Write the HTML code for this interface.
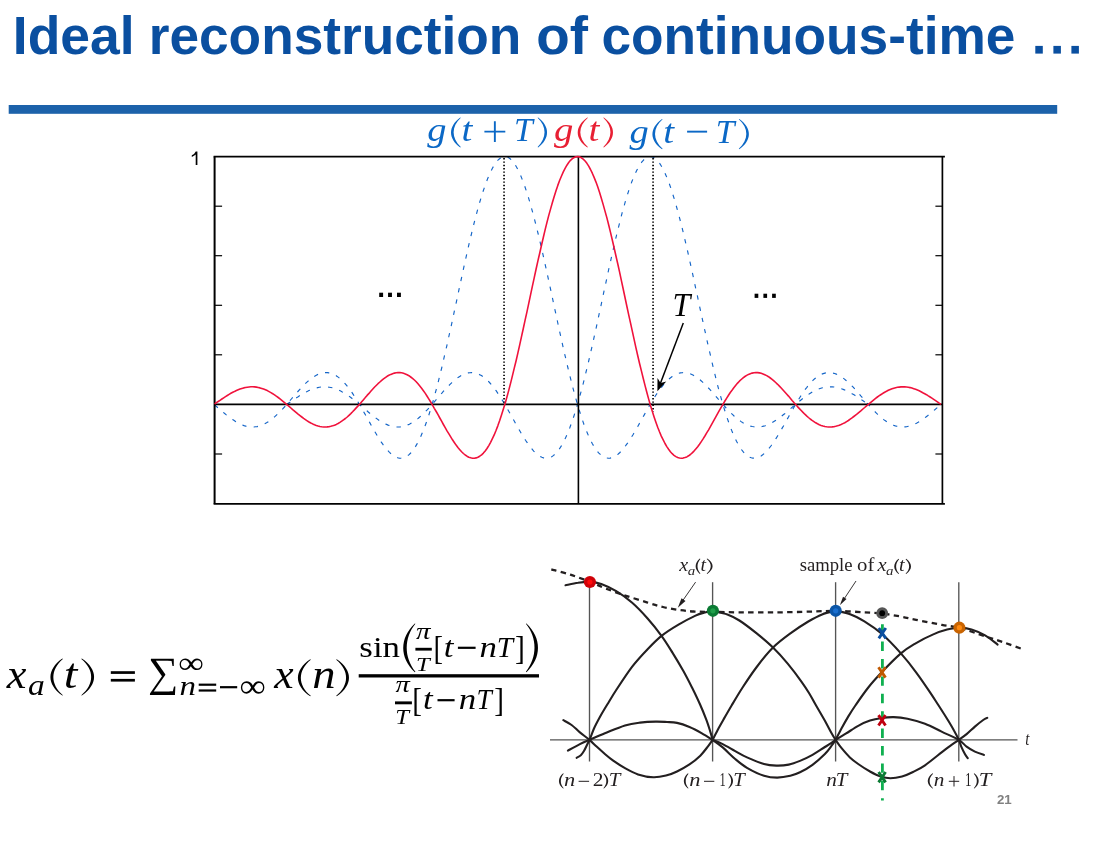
<!DOCTYPE html>
<html><head><meta charset="utf-8"><title>Ideal reconstruction of continuous-time</title>
<style>html,body{margin:0;padding:0;background:#fff;}body{width:1102px;height:842px;overflow:hidden;font-family:"Liberation Sans",sans-serif;}svg{display:block;will-change:transform;}text{font-kerning:none;white-space:pre;}</style></head><body>
<svg width="1102" height="842" viewBox="0 0 1102 842">
<rect width="1102" height="842" fill="#fff"/>
<g id="page" opacity="0.999">
<g id="title">
<text transform="matrix(0.5348 0 0 0.5360 12.82 53.60)" font-family="Liberation Sans" font-size="100" font-weight="bold" fill="#0a4fa0">Ideal</text>
<text transform="matrix(0.5325 0 0 0.5360 148.69 53.60)" font-family="Liberation Sans" font-size="100" font-weight="bold" fill="#0a4fa0">reconstruction</text>
<text transform="matrix(0.5481 0 0 0.5360 536.16 53.60)" font-family="Liberation Sans" font-size="100" font-weight="bold" fill="#0a4fa0">of</text>
<text transform="matrix(0.5324 0 0 0.5360 601.42 53.60)" font-family="Liberation Sans" font-size="100" font-weight="bold" fill="#0a4fa0">continuous-time</text>
<rect x="1035.3" y="45.9" width="7.5" height="7.7" fill="#0a4fa0"/>
<rect x="1053.4" y="45.9" width="7.5" height="7.7" fill="#0a4fa0"/>
<rect x="1071.4" y="45.9" width="7.5" height="7.7" fill="#0a4fa0"/>
</g>
<rect x="8.7" y="105" width="1048.5" height="8.8" fill="#1c62aa"/>
<g id="plot" fill="none">
<path d="M214.6,404.9 L216.2,406.3 L217.9,407.7 L219.5,409.1 L221.1,410.5 L222.8,411.9 L224.4,413.3 L226.0,414.6 L227.7,415.9 L229.3,417.2 L230.9,418.4 L232.6,419.6 L234.2,420.6 L235.8,421.7 L237.5,422.6 L239.1,423.5 L240.7,424.3 L242.4,425.0 L244.0,425.6 L245.7,426.1 L247.3,426.5 L248.9,426.8 L250.6,427.0 L252.2,427.0 L253.8,427.0 L255.5,426.8 L257.1,426.6 L258.7,426.2 L260.4,425.7 L262.0,425.1 L263.6,424.4 L265.3,423.5 L266.9,422.6 L268.5,421.6 L270.2,420.4 L271.8,419.2 L273.4,417.8 L275.1,416.4 L276.7,414.9 L278.3,413.4 L280.0,411.7 L281.6,410.0 L283.2,408.3 L284.9,406.5 L286.5,404.6 L288.1,402.8 L289.8,400.9 L291.4,399.0 L293.0,397.1 L294.7,395.2 L296.3,393.3 L297.9,391.5 L299.6,389.6 L301.2,387.9 L302.8,386.2 L304.5,384.5 L306.1,382.9 L307.8,381.4 L309.4,380.0 L311.0,378.7 L312.7,377.5 L314.3,376.4 L315.9,375.5 L317.6,374.6 L319.2,373.9 L320.8,373.4 L322.5,373.0 L324.1,372.7 L325.7,372.6 L327.4,372.6 L329.0,372.9 L330.6,373.2 L332.3,373.8 L333.9,374.5 L335.5,375.3 L337.2,376.4 L338.8,377.6 L340.4,378.9 L342.1,380.4 L343.7,382.1 L345.3,383.9 L347.0,385.8 L348.6,387.9 L350.2,390.1 L351.9,392.4 L353.5,394.9 L355.1,397.4 L356.8,400.0 L358.4,402.7 L360.0,405.5 L361.7,408.3 L363.3,411.2 L365.0,414.1 L366.6,417.1 L368.2,420.0 L369.9,422.9 L371.5,425.9 L373.1,428.7 L374.8,431.6 L376.4,434.3 L378.0,437.0 L379.7,439.6 L381.3,442.1 L382.9,444.4 L384.6,446.6 L386.2,448.7 L387.8,450.6 L389.5,452.3 L391.1,453.8 L392.7,455.1 L394.4,456.2 L396.0,457.1 L397.6,457.7 L399.3,458.1 L400.9,458.2 L402.5,458.1 L404.2,457.7 L405.8,456.9 L407.4,455.9 L409.1,454.6 L410.7,453.0 L412.3,451.1 L414.0,448.9 L415.6,446.4 L417.2,443.6 L418.9,440.5 L420.5,437.1 L422.1,433.3 L423.8,429.3 L425.4,425.0 L427.1,420.4 L428.7,415.5 L430.3,410.3 L432.0,404.9 L433.6,399.2 L435.2,393.3 L436.9,387.2 L438.5,380.8 L440.1,374.3 L441.8,367.5 L443.4,360.6 L445.0,353.5 L446.7,346.3 L448.3,339.0 L449.9,331.6 L451.6,324.1 L453.2,316.5 L454.8,308.9 L456.5,301.3 L458.1,293.7 L459.7,286.1 L461.4,278.5 L463.0,271.0 L464.6,263.5 L466.3,256.2 L467.9,249.0 L469.5,241.9 L471.2,235.0 L472.8,228.3 L474.4,221.8 L476.1,215.5 L477.7,209.4 L479.3,203.6 L481.0,198.1 L482.6,192.8 L484.3,187.9 L485.9,183.3 L487.5,179.0 L489.2,175.1 L490.8,171.5 L492.4,168.2 L494.1,165.4 L495.7,162.9 L497.3,160.9 L499.0,159.2 L500.6,158.0 L502.2,157.1 L503.9,156.7 L505.5,156.6 L507.1,157.0 L508.8,157.8 L510.4,159.0 L512.0,160.6 L513.7,162.6 L515.3,165.0 L516.9,167.8 L518.6,171.0 L520.2,174.5 L521.8,178.4 L523.5,182.6 L525.1,187.2 L526.7,192.1 L528.4,197.3 L530.0,202.8 L531.6,208.6 L533.3,214.6 L534.9,220.8 L536.5,227.3 L538.2,234.0 L539.8,240.9 L541.5,248.0 L543.1,255.1 L544.7,262.5 L546.4,269.9 L548.0,277.4 L549.6,284.9 L551.3,292.5 L552.9,300.2 L554.5,307.8 L556.2,315.4 L557.8,323.0 L559.4,330.5 L561.1,337.9 L562.7,345.3 L564.3,352.5 L566.0,359.6 L567.6,366.5 L569.2,373.3 L570.9,379.9 L572.5,386.2 L574.1,392.4 L575.8,398.4 L577.4,404.1 L579.0,409.5 L580.7,414.7 L582.3,419.7 L583.9,424.3 L585.6,428.7 L587.2,432.7 L588.8,436.5 L590.5,440.0 L592.1,443.2 L593.7,446.0 L595.4,448.6 L597.0,450.8 L598.6,452.8 L600.3,454.4 L601.9,455.8 L603.6,456.8 L605.2,457.6 L606.8,458.0 L608.5,458.2 L610.1,458.1 L611.7,457.8 L613.4,457.2 L615.0,456.4 L616.6,455.3 L618.3,454.0 L619.9,452.5 L621.5,450.8 L623.2,449.0 L624.8,446.9 L626.4,444.7 L628.1,442.4 L629.7,440.0 L631.3,437.4 L633.0,434.7 L634.6,432.0 L636.2,429.2 L637.9,426.3 L639.5,423.4 L641.1,420.5 L642.8,417.5 L644.4,414.6 L646.0,411.7 L647.7,408.8 L649.3,405.9 L650.9,403.1 L652.6,400.4 L654.2,397.8 L655.8,395.2 L657.5,392.8 L659.1,390.4 L660.8,388.2 L662.4,386.1 L664.0,384.1 L665.7,382.3 L667.3,380.6 L668.9,379.1 L670.6,377.7 L672.2,376.5 L673.8,375.5 L675.5,374.6 L677.1,373.9 L678.7,373.3 L680.4,372.9 L682.0,372.7 L683.6,372.6 L685.3,372.7 L686.9,372.9 L688.5,373.3 L690.2,373.8 L691.8,374.5 L693.4,375.3 L695.1,376.3 L696.7,377.3 L698.3,378.5 L700.0,379.8 L701.6,381.2 L703.2,382.7 L704.9,384.3 L706.5,385.9 L708.1,387.6 L709.8,389.4 L711.4,391.2 L713.0,393.0 L714.7,394.9 L716.3,396.8 L717.9,398.7 L719.6,400.6 L721.2,402.5 L722.9,404.3 L724.5,406.2 L726.1,408.0 L727.8,409.8 L729.4,411.5 L731.0,413.1 L732.7,414.7 L734.3,416.2 L735.9,417.6 L737.6,419.0 L739.2,420.2 L740.8,421.4 L742.5,422.5 L744.1,423.4 L745.7,424.3 L747.4,425.0 L749.0,425.6 L750.6,426.1 L752.3,426.5 L753.9,426.8 L755.5,427.0 L757.2,427.0 L758.8,427.0 L760.4,426.8 L762.1,426.5 L763.7,426.1 L765.3,425.7 L767.0,425.1 L768.6,424.4 L770.2,423.6 L771.9,422.8 L773.5,421.8 L775.1,420.8 L776.8,419.7 L778.4,418.6 L780.1,417.4 L781.7,416.1 L783.3,414.8 L785.0,413.5 L786.6,412.1 L788.2,410.7 L789.9,409.3 L791.5,407.9 L793.1,406.5 L794.8,405.1 L796.4,403.7 L798.0,402.4 L799.7,401.0 L801.3,399.7 L802.9,398.4 L804.6,397.2 L806.2,396.0 L807.8,394.9 L809.5,393.8 L811.1,392.8 L812.7,391.8 L814.4,391.0 L816.0,390.2 L817.6,389.5 L819.3,388.8 L820.9,388.3 L822.5,387.8 L824.2,387.4 L825.8,387.2 L827.4,387.0 L829.1,386.9 L830.7,386.8 L832.3,386.9 L834.0,387.0 L835.6,387.3 L837.2,387.6 L838.9,388.0 L840.5,388.5 L842.2,389.0 L843.8,389.6 L845.4,390.3 L847.1,391.1 L848.7,391.9 L850.3,392.8 L852.0,393.7 L853.6,394.6 L855.2,395.6 L856.9,396.7 L858.5,397.7 L860.1,398.8 L861.8,399.9 L863.4,401.0 L865.0,402.2 L866.7,403.3 L868.3,404.4" stroke="#1465c8" stroke-width="1.15" stroke-dasharray="4.3 7.2"/>
<path d="M286.7,404.4 L288.3,403.3 L290.0,402.2 L291.6,401.0 L293.2,399.9 L294.9,398.8 L296.5,397.7 L298.2,396.7 L299.8,395.6 L301.4,394.6 L303.1,393.7 L304.7,392.8 L306.3,391.9 L308.0,391.1 L309.6,390.3 L311.2,389.6 L312.9,389.0 L314.5,388.5 L316.1,388.0 L317.8,387.6 L319.4,387.3 L321.1,387.0 L322.7,386.9 L324.3,386.8 L326.0,386.9 L327.6,387.0 L329.2,387.2 L330.9,387.5 L332.5,387.8 L334.1,388.3 L335.8,388.8 L337.4,389.5 L339.0,390.2 L340.7,391.0 L342.3,391.9 L344.0,392.8 L345.6,393.8 L347.2,394.9 L348.9,396.0 L350.5,397.2 L352.1,398.5 L353.8,399.7 L355.4,401.1 L357.0,402.4 L358.7,403.8 L360.3,405.2 L361.9,406.6 L363.6,408.0 L365.2,409.4 L366.9,410.8 L368.5,412.2 L370.1,413.6 L371.8,414.9 L373.4,416.2 L375.0,417.4 L376.7,418.6 L378.3,419.8 L379.9,420.9 L381.6,421.9 L383.2,422.8 L384.8,423.7 L386.5,424.4 L388.1,425.1 L389.8,425.7 L391.4,426.2 L393.0,426.5 L394.7,426.8 L396.3,427.0 L397.9,427.0 L399.6,427.0 L401.2,426.8 L402.8,426.5 L404.5,426.1 L406.1,425.6 L407.7,424.9 L409.4,424.2 L411.0,423.3 L412.7,422.4 L414.3,421.3 L415.9,420.1 L417.6,418.9 L419.2,417.5 L420.8,416.1 L422.5,414.6 L424.1,413.0 L425.7,411.3 L427.4,409.6 L429.0,407.9 L430.6,406.0 L432.3,404.2 L433.9,402.3 L435.6,400.4 L437.2,398.5 L438.8,396.6 L440.5,394.7 L442.1,392.9 L443.7,391.0 L445.4,389.2 L447.0,387.5 L448.6,385.8 L450.3,384.1 L451.9,382.6 L453.5,381.1 L455.2,379.7 L456.8,378.4 L458.5,377.2 L460.1,376.2 L461.7,375.3 L463.4,374.4 L465.0,373.8 L466.6,373.3 L468.3,372.9 L469.9,372.7 L471.5,372.6 L473.2,372.7 L474.8,372.9 L476.4,373.3 L478.1,373.9 L479.7,374.7 L481.4,375.6 L483.0,376.7 L484.6,377.9 L486.3,379.3 L487.9,380.8 L489.5,382.5 L491.2,384.4 L492.8,386.3 L494.4,388.5 L496.1,390.7 L497.7,393.1 L499.3,395.5 L501.0,398.1 L502.6,400.7 L504.3,403.5 L505.9,406.3 L507.5,409.1 L509.2,412.0 L510.8,414.9 L512.4,417.9 L514.1,420.8 L515.7,423.8 L517.3,426.7 L519.0,429.5 L520.6,432.3 L522.2,435.1 L523.9,437.7 L525.5,440.3 L527.2,442.7 L528.8,445.1 L530.4,447.2 L532.1,449.2 L533.7,451.1 L535.3,452.8 L537.0,454.2 L538.6,455.5 L540.2,456.5 L541.9,457.3 L543.5,457.9 L545.1,458.2 L546.8,458.2 L548.4,458.0 L550.1,457.5 L551.7,456.7 L553.3,455.6 L555.0,454.2 L556.6,452.5 L558.2,450.5 L559.9,448.2 L561.5,445.6 L563.1,442.7 L564.8,439.5 L566.4,435.9 L568.0,432.1 L569.7,428.0 L571.3,423.6 L573.0,418.9 L574.6,413.9 L576.2,408.7 L577.9,403.2 L579.5,397.4 L581.1,391.4 L582.8,385.2 L584.4,378.8 L586.0,372.2 L587.7,365.3 L589.3,358.4 L590.9,351.3 L592.6,344.0 L594.2,336.7 L595.9,329.2 L597.5,321.7 L599.1,314.1 L600.8,306.5 L602.4,298.8 L604.0,291.2 L605.7,283.6 L607.3,276.0 L608.9,268.5 L610.6,261.1 L612.2,253.8 L613.9,246.6 L615.5,239.6 L617.1,232.8 L618.8,226.1 L620.4,219.7 L622.0,213.4 L623.7,207.4 L625.3,201.7 L626.9,196.3 L628.6,191.1 L630.2,186.3 L631.8,181.8 L633.5,177.6 L635.1,173.8 L636.8,170.3 L638.4,167.2 L640.0,164.5 L641.7,162.2 L643.3,160.3 L644.9,158.7 L646.6,157.6 L648.2,156.9 L649.8,156.6 L651.5,156.7 L653.1,157.3 L654.7,158.2 L656.4,159.5 L658.0,161.3 L659.7,163.4 L661.3,166.0 L662.9,168.9 L664.6,172.2 L666.2,175.9 L667.8,179.9 L669.5,184.2 L671.1,188.9 L672.7,194.0 L674.4,199.3 L676.0,204.9 L677.6,210.7 L679.3,216.9 L680.9,223.2 L682.6,229.8 L684.2,236.6 L685.8,243.5 L687.5,250.6 L689.1,257.9 L690.7,265.2 L692.4,272.7 L694.0,280.2 L695.6,287.8 L697.3,295.4 L698.9,303.1 L700.5,310.7 L702.2,318.3 L703.8,325.9 L705.5,333.4 L707.1,340.8 L708.7,348.1 L710.4,355.2 L712.0,362.3 L713.6,369.1 L715.3,375.9 L716.9,382.4 L718.5,388.7 L720.2,394.8 L721.8,400.6 L723.4,406.2 L725.1,411.6 L726.7,416.7 L728.4,421.5 L730.0,426.1 L731.6,430.3 L733.3,434.3 L734.9,437.9 L736.5,441.3 L738.2,444.4 L739.8,447.1 L741.4,449.5 L743.1,451.7 L744.7,453.5 L746.3,455.0 L748.0,456.2 L749.6,457.2 L751.3,457.8 L752.9,458.1 L754.5,458.2 L756.2,458.0 L757.8,457.6 L759.4,456.9 L761.1,456.0 L762.7,454.8 L764.3,453.4 L766.0,451.9 L767.6,450.1 L769.2,448.1 L770.9,446.0 L772.5,443.8 L774.2,441.4 L775.8,438.9 L777.4,436.3 L779.1,433.6 L780.7,430.8 L782.3,427.9 L784.0,425.1 L785.6,422.1 L787.2,419.2 L788.9,416.2 L790.5,413.3 L792.1,410.4 L793.8,407.5 L795.4,404.7 L797.1,401.9 L798.7,399.3 L800.3,396.7 L802.0,394.1 L803.6,391.7 L805.2,389.4 L806.9,387.3 L808.5,385.2 L810.1,383.3 L811.8,381.6 L813.4,379.9 L815.0,378.5 L816.7,377.2 L818.3,376.0 L820.0,375.1 L821.6,374.2 L823.2,373.6 L824.9,373.1 L826.5,372.8 L828.1,372.6 L829.8,372.6 L831.4,372.8 L833.0,373.1 L834.7,373.5 L836.3,374.1 L837.9,374.9 L839.6,375.8 L841.2,376.8 L842.9,377.9 L844.5,379.1 L846.1,380.5 L847.8,381.9 L849.4,383.4 L851.0,385.0 L852.7,386.7 L854.3,388.4 L855.9,390.2 L857.6,392.0 L859.2,393.9 L860.8,395.8 L862.5,397.7 L864.1,399.6 L865.8,401.5 L867.4,403.4 L869.0,405.2 L870.7,407.1 L872.3,408.8 L873.9,410.6 L875.6,412.3 L877.2,413.9 L878.8,415.4 L880.5,416.9 L882.1,418.3 L883.7,419.6 L885.4,420.8 L887.0,421.9 L888.7,422.9 L890.3,423.8 L891.9,424.6 L893.6,425.3 L895.2,425.9 L896.8,426.3 L898.5,426.7 L900.1,426.9 L901.7,427.0 L903.4,427.0 L905.0,426.9 L906.6,426.7 L908.3,426.3 L909.9,425.9 L911.6,425.4 L913.2,424.7 L914.8,424.0 L916.5,423.2 L918.1,422.3 L919.7,421.3 L921.4,420.3 L923.0,419.1 L924.6,418.0 L926.3,416.7 L927.9,415.5 L929.5,414.1 L931.2,412.8 L932.8,411.4 L934.5,410.0 L936.1,408.6 L937.7,407.2 L939.4,405.8 L941.0,404.4" stroke="#1465c8" stroke-width="1.15" stroke-dasharray="4.3 7.2"/>
<line x1="504.05" y1="158.07" x2="504.05" y2="404.0" stroke="#000" stroke-width="1.7" stroke-dasharray="1.4 1.933"/>
<line x1="653.07" y1="158.07" x2="653.07" y2="412.0" stroke="#000" stroke-width="1.7" stroke-dasharray="1.4 1.933"/>
<line x1="213.6" y1="156.6" x2="944.9" y2="156.6" stroke="#000" stroke-width="1.7"/>
<line x1="213.6" y1="503.8" x2="944.9" y2="503.8" stroke="#000" stroke-width="1.7"/>
<line x1="214.6" y1="156.6" x2="214.6" y2="503.8" stroke="#000" stroke-width="2"/>
<line x1="942.4" y1="156.6" x2="942.4" y2="503.8" stroke="#000" stroke-width="1.7"/>
<line x1="214.6" y1="404.4" x2="942.4" y2="404.4" stroke="#000" stroke-width="1.6"/>
<line x1="578.4" y1="156.6" x2="578.4" y2="503.8" stroke="#000" stroke-width="1.6"/>
<line x1="214.6" y1="206.2" x2="222.1" y2="206.2" stroke="#000" stroke-width="1.2"/>
<line x1="935.4" y1="206.2" x2="942.4" y2="206.2" stroke="#000" stroke-width="1.2"/>
<line x1="214.6" y1="255.7" x2="222.1" y2="255.7" stroke="#000" stroke-width="1.2"/>
<line x1="935.4" y1="255.7" x2="942.4" y2="255.7" stroke="#000" stroke-width="1.2"/>
<line x1="214.6" y1="305.3" x2="222.1" y2="305.3" stroke="#000" stroke-width="1.2"/>
<line x1="935.4" y1="305.3" x2="942.4" y2="305.3" stroke="#000" stroke-width="1.2"/>
<line x1="214.6" y1="354.8" x2="222.1" y2="354.8" stroke="#000" stroke-width="1.2"/>
<line x1="935.4" y1="354.8" x2="942.4" y2="354.8" stroke="#000" stroke-width="1.2"/>
<line x1="214.6" y1="454.0" x2="222.1" y2="454.0" stroke="#000" stroke-width="1.2"/>
<line x1="935.4" y1="454.0" x2="942.4" y2="454.0" stroke="#000" stroke-width="1.2"/>
<path d="M214.6,404.0 L216.4,402.7 L218.2,401.5 L220.0,400.3 L221.9,399.0 L223.7,397.8 L225.5,396.6 L227.3,395.5 L229.1,394.4 L230.9,393.3 L232.8,392.3 L234.6,391.4 L236.4,390.6 L238.2,389.8 L240.0,389.1 L241.8,388.5 L243.7,387.9 L245.5,387.5 L247.3,387.2 L249.1,387.0 L250.9,386.8 L252.7,386.8 L254.6,386.9 L256.4,387.1 L258.2,387.5 L260.0,387.9 L261.8,388.4 L263.6,389.1 L265.4,389.8 L267.3,390.6 L269.1,391.6 L270.9,392.6 L272.7,393.7 L274.5,394.9 L276.3,396.2 L278.2,397.5 L280.0,398.9 L281.8,400.3 L283.6,401.8 L285.4,403.3 L287.2,404.9 L289.1,406.4 L290.9,408.0 L292.7,409.6 L294.5,411.1 L296.3,412.6 L298.1,414.1 L300.0,415.6 L301.8,417.0 L303.6,418.4 L305.4,419.6 L307.2,420.8 L309.0,422.0 L310.8,423.0 L312.7,423.9 L314.5,424.7 L316.3,425.4 L318.1,426.0 L319.9,426.5 L321.7,426.8 L323.6,427.0 L325.4,427.0 L327.2,426.9 L329.0,426.7 L330.8,426.3 L332.6,425.8 L334.5,425.2 L336.3,424.4 L338.1,423.5 L339.9,422.4 L341.7,421.2 L343.5,419.9 L345.4,418.5 L347.2,417.0 L349.0,415.3 L350.8,413.6 L352.6,411.8 L354.4,409.9 L356.2,407.9 L358.1,405.9 L359.9,403.9 L361.7,401.8 L363.5,399.7 L365.3,397.6 L367.1,395.4 L369.0,393.4 L370.8,391.3 L372.6,389.3 L374.4,387.3 L376.2,385.5 L378.0,383.7 L379.9,382.0 L381.7,380.4 L383.5,378.9 L385.3,377.6 L387.1,376.3 L388.9,375.3 L390.8,374.4 L392.6,373.7 L394.4,373.1 L396.2,372.8 L398.0,372.6 L399.8,372.6 L401.6,372.8 L403.5,373.3 L405.3,373.9 L407.1,374.7 L408.9,375.7 L410.7,377.0 L412.5,378.4 L414.4,380.0 L416.2,381.8 L418.0,383.8 L419.8,386.0 L421.6,388.3 L423.4,390.8 L425.3,393.4 L427.1,396.2 L428.9,399.1 L430.7,402.0 L432.5,405.1 L434.3,408.3 L436.2,411.5 L438.0,414.7 L439.8,418.0 L441.6,421.2 L443.4,424.5 L445.2,427.7 L447.0,430.9 L448.9,433.9 L450.7,436.9 L452.5,439.8 L454.3,442.5 L456.1,445.1 L457.9,447.5 L459.8,449.7 L461.6,451.7 L463.4,453.5 L465.2,455.0 L467.0,456.2 L468.8,457.2 L470.7,457.8 L472.5,458.2 L474.3,458.2 L476.1,457.9 L477.9,457.2 L479.7,456.2 L481.6,454.8 L483.4,453.1 L485.2,451.0 L487.0,448.5 L488.8,445.6 L490.6,442.3 L492.4,438.7 L494.3,434.7 L496.1,430.3 L497.9,425.6 L499.7,420.5 L501.5,415.0 L503.3,409.3 L505.2,403.2 L507.0,396.8 L508.8,390.1 L510.6,383.1 L512.4,375.9 L514.2,368.4 L516.1,360.8 L517.9,352.9 L519.7,344.9 L521.5,336.7 L523.3,328.5 L525.1,320.1 L527.0,311.6 L528.8,303.2 L530.6,294.7 L532.4,286.2 L534.2,277.8 L536.0,269.5 L537.8,261.3 L539.7,253.2 L541.5,245.2 L543.3,237.5 L545.1,229.9 L546.9,222.6 L548.7,215.6 L550.6,208.9 L552.4,202.5 L554.2,196.4 L556.0,190.7 L557.8,185.4 L559.6,180.5 L561.5,176.0 L563.3,171.9 L565.1,168.3 L566.9,165.2 L568.7,162.5 L570.5,160.3 L572.4,158.6 L574.2,157.5 L576.0,156.8 L577.8,156.6 L579.6,156.9 L581.4,157.8 L583.2,159.1 L585.1,161.0 L586.9,163.3 L588.7,166.2 L590.5,169.5 L592.3,173.2 L594.1,177.4 L596.0,182.1 L597.8,187.1 L599.6,192.6 L601.4,198.4 L603.2,204.6 L605.0,211.1 L606.9,217.9 L608.7,225.0 L610.5,232.4 L612.3,240.0 L614.1,247.8 L615.9,255.8 L617.8,264.0 L619.6,272.2 L621.4,280.6 L623.2,289.0 L625.0,297.5 L626.8,306.0 L628.6,314.4 L630.5,322.9 L632.3,331.2 L634.1,339.4 L635.9,347.6 L637.7,355.5 L639.5,363.3 L641.4,370.9 L643.2,378.3 L645.0,385.4 L646.8,392.3 L648.6,398.9 L650.4,405.2 L652.3,411.2 L654.1,416.9 L655.9,422.2 L657.7,427.2 L659.5,431.8 L661.3,436.1 L663.2,439.9 L665.0,443.5 L666.8,446.6 L668.6,449.3 L670.4,451.7 L672.2,453.7 L674.0,455.3 L675.9,456.6 L677.7,457.5 L679.5,458.0 L681.3,458.2 L683.1,458.1 L684.9,457.6 L686.8,456.9 L688.6,455.8 L690.4,454.5 L692.2,452.9 L694.0,451.1 L695.8,449.0 L697.7,446.7 L699.5,444.3 L701.3,441.6 L703.1,438.9 L704.9,436.0 L706.7,432.9 L708.6,429.8 L710.4,426.6 L712.2,423.4 L714.0,420.2 L715.8,416.9 L717.6,413.6 L719.4,410.4 L721.3,407.2 L723.1,404.1 L724.9,401.0 L726.7,398.1 L728.5,395.3 L730.3,392.5 L732.2,390.0 L734.0,387.5 L735.8,385.2 L737.6,383.1 L739.4,381.2 L741.2,379.5 L743.1,377.9 L744.9,376.5 L746.7,375.4 L748.5,374.4 L750.3,373.7 L752.1,373.1 L754.0,372.7 L755.8,372.6 L757.6,372.6 L759.4,372.9 L761.2,373.3 L763.0,373.9 L764.8,374.7 L766.7,375.6 L768.5,376.7 L770.3,378.0 L772.1,379.4 L773.9,380.9 L775.7,382.5 L777.6,384.3 L779.4,386.1 L781.2,388.0 L783.0,390.0 L784.8,392.0 L786.6,394.0 L788.5,396.1 L790.3,398.2 L792.1,400.4 L793.9,402.5 L795.7,404.5 L797.5,406.6 L799.4,408.6 L801.2,410.5 L803.0,412.4 L804.8,414.2 L806.6,415.9 L808.4,417.5 L810.2,419.0 L812.1,420.4 L813.9,421.6 L815.7,422.8 L817.5,423.8 L819.3,424.7 L821.1,425.4 L823.0,426.0 L824.8,426.5 L826.6,426.8 L828.4,427.0 L830.2,427.0 L832.0,426.9 L833.9,426.7 L835.7,426.3 L837.5,425.8 L839.3,425.2 L841.1,424.5 L842.9,423.6 L844.8,422.7 L846.6,421.6 L848.4,420.5 L850.2,419.2 L852.0,417.9 L853.8,416.5 L855.6,415.1 L857.5,413.6 L859.3,412.1 L861.1,410.6 L862.9,409.0 L864.7,407.5 L866.5,405.9 L868.4,404.3 L870.2,402.8 L872.0,401.3 L873.8,399.8 L875.6,398.4 L877.4,397.0 L879.3,395.7 L881.1,394.5 L882.9,393.3 L884.7,392.2 L886.5,391.3 L888.3,390.3 L890.2,389.5 L892.0,388.8 L893.8,388.2 L895.6,387.7 L897.4,387.3 L899.2,387.1 L901.0,386.9 L902.9,386.8 L904.7,386.9 L906.5,387.0 L908.3,387.3 L910.1,387.6 L911.9,388.1 L913.8,388.7 L915.6,389.3 L917.4,390.0 L919.2,390.8 L921.0,391.7 L922.8,392.7 L924.7,393.7 L926.5,394.7 L928.3,395.9 L930.1,397.0 L931.9,398.2 L933.7,399.4 L935.6,400.7 L937.4,401.9 L939.2,403.2 L941.0,404.4" stroke="#f0123c" stroke-width="1.6" stroke-linejoin="round"/>
<line x1="683.3" y1="323.1" x2="659.3" y2="386.3" stroke="#000" stroke-width="1.5"/>
<path d="M657.4,391.2 L657.5,378.0 L660.6,382.9 L666.3,381.4 Z" fill="#000" stroke="none"/>
</g>
<g id="plotlabels">
<path d="M195.75,151.4 L197.4,151.4 L197.4,164.9 L195.7,164.9 L195.7,154.6 Q194.2,156.0 191.8,156.9 L191.8,155.3 Q194.6,154.0 195.75,151.4 Z" fill="#000"/>
<text transform="matrix(0.3201 0 0 0.3329 672.51 316.00)" font-family="Liberation Serif" font-size="100" font-style="italic" fill="#000">T</text>
<rect x="379.20" y="292.7" width="3.9" height="4.3" fill="#000"/>
<rect x="388.05" y="292.7" width="3.9" height="4.3" fill="#000"/>
<rect x="397.00" y="292.7" width="3.9" height="4.3" fill="#000"/>
<rect x="754.60" y="293.7" width="3.7" height="4.2" fill="#000"/>
<rect x="763.40" y="293.7" width="3.7" height="4.2" fill="#000"/>
<rect x="772.10" y="293.7" width="3.7" height="4.2" fill="#000"/>
</g>
<g id="glabels">
<text transform="matrix(0.3849 0 0 0.3300 427.28 141.00)" font-family="Liberation Serif" font-size="100" font-style="italic" fill="#0b68c6">g</text>
<path d="M460.25,117.40 C448.00,126.40 448.00,138.40 460.25,147.40 L460.80,146.96 C451.25,138.22 451.25,126.58 460.80,117.84 Z" fill="#0b68c6"/>
<text transform="matrix(0.3894 0 0 0.3300 461.40 141.00)" font-family="Liberation Serif" font-size="100" font-style="italic" fill="#0b68c6">t</text>
<path d="M484.4,130.7h9.5v-9.5h1.9v9.5h9.5v1.9h-9.5v9.5h-1.9v-9.5h-9.5z" fill="#0b68c6"/>
<text transform="matrix(0.3365 0 0 0.3300 514.00 141.00)" font-family="Liberation Serif" font-size="100" font-style="italic" fill="#0b68c6">T</text>
<path d="M538.15,117.40 C550.13,126.40 550.13,138.40 538.15,147.40 L537.60,146.96 C546.88,138.22 546.88,126.58 537.60,117.84 Z" fill="#0b68c6"/>
<text transform="matrix(0.3871 0 0 0.3300 553.88 141.00)" font-family="Liberation Serif" font-size="100" font-style="italic" fill="#e81f33">g</text>
<path d="M587.35,117.40 C574.57,126.40 574.57,138.40 587.35,147.40 L587.90,146.96 C577.82,138.22 577.82,126.58 587.90,117.84 Z" fill="#e81f33"/>
<text transform="matrix(0.3894 0 0 0.3300 588.50 141.00)" font-family="Liberation Serif" font-size="100" font-style="italic" fill="#e81f33">t</text>
<path d="M603.85,117.40 C616.10,126.40 616.10,138.40 603.85,147.40 L603.30,146.96 C612.85,138.22 612.85,126.58 603.30,117.84 Z" fill="#e81f33"/>
<text transform="matrix(0.3849 0 0 0.3300 629.38 142.70)" font-family="Liberation Serif" font-size="100" font-style="italic" fill="#0b68c6">g</text>
<path d="M662.05,118.90 C649.27,127.99 649.27,140.11 662.05,149.20 L662.60,148.76 C652.54,139.93 652.54,128.17 662.60,119.34 Z" fill="#0b68c6"/>
<text transform="matrix(0.3894 0 0 0.3300 663.20 142.70)" font-family="Liberation Serif" font-size="100" font-style="italic" fill="#0b68c6">t</text>
<rect x="687.1" y="130.7" width="20" height="1.9" fill="#0b68c6"/>
<text transform="matrix(0.3365 0 0 0.3300 715.80 142.70)" font-family="Liberation Serif" font-size="100" font-style="italic" fill="#0b68c6">T</text>
<path d="M739.35,118.90 C752.13,127.99 752.13,140.11 739.35,149.20 L738.80,148.76 C748.86,139.93 748.86,128.17 738.80,119.34 Z" fill="#0b68c6"/>
</g>
<g id="formula">
<text transform="matrix(0.4435 0 0 0.4150 6.64 688.10)" font-family="Liberation Serif" font-size="100" font-style="italic" fill="#000">x</text>
<text transform="matrix(0.3363 0 0 0.2850 28.07 695.30)" font-family="Liberation Serif" font-size="100" font-style="italic" fill="#000">a</text>
<path d="M62.35,658.60 C46.50,669.70 46.50,684.50 62.35,695.60 L62.90,695.16 C50.20,684.28 50.20,669.92 62.90,659.04 Z" fill="#000"/>
<text transform="matrix(0.4897 0 0 0.4150 63.73 688.10)" font-family="Liberation Serif" font-size="100" font-style="italic" fill="#000">t</text>
<path d="M81.85,658.60 C98.23,669.70 98.23,684.50 81.85,695.60 L81.30,695.16 C94.53,684.28 94.53,669.92 81.30,659.04 Z" fill="#000"/>
<rect x="110.8" y="671.2" width="24.1" height="2.7" fill="#000"/>
<rect x="110.8" y="678.9" width="24.1" height="2.7" fill="#000"/>
<text transform="matrix(0.4246 0 0 0.4184 147.99 685.99)" font-family="Liberation Serif" font-size="100" fill="#000">∑</text>
<text transform="matrix(0.3594 0 0 0.2993 178.25 673.47)" font-family="Liberation Serif" font-size="100" fill="#000">∞</text>
<text transform="matrix(0.3304 0 0 0.2800 179.49 695.30)" font-family="Liberation Serif" font-size="100" font-style="italic" fill="#000">n</text>
<rect x="198.7" y="683.6" width="17.5" height="2.2" fill="#000"/>
<rect x="198.7" y="689.4" width="17.5" height="2.2" fill="#000"/>
<rect x="220.0" y="686.1" width="17.2" height="2.2" fill="#000"/>
<text transform="matrix(0.3688 0 0 0.3282 239.61 696.65)" font-family="Liberation Serif" font-size="100" fill="#000">∞</text>
<text transform="matrix(0.4368 0 0 0.4150 274.23 688.10)" font-family="Liberation Serif" font-size="100" font-style="italic" fill="#000">x</text>
<path d="M310.25,659.20 C293.87,670.30 293.87,685.10 310.25,696.20 L310.80,695.76 C297.57,684.88 297.57,670.52 310.80,659.64 Z" fill="#000"/>
<text transform="matrix(0.4659 0 0 0.4150 312.34 688.10)" font-family="Liberation Serif" font-size="100" font-style="italic" fill="#000">n</text>
<path d="M336.75,659.20 C353.13,670.30 353.13,685.10 336.75,696.20 L336.20,695.76 C349.43,684.88 349.43,670.52 336.20,659.64 Z" fill="#000"/>
<rect x="358.7" y="674.2" width="180.3" height="3.3" fill="#000"/>
<text transform="matrix(0.3481 0 0 0.2950 359.34 656.70)" font-family="Liberation Serif" font-size="100" fill="#000">sin</text>
<path d="M414.85,623.40 C399.40,638.04 399.40,657.56 414.85,672.20 L415.40,671.76 C403.86,657.27 403.86,638.33 415.40,623.84 Z" fill="#000"/>
<text transform="matrix(0.2893 0 0 0.2325 415.94 639.47)" font-family="Liberation Serif" font-size="100" font-style="italic" fill="#000">π</text>
<rect x="415.4" y="647.8" width="16.4" height="2.8" fill="#000"/>
<text transform="matrix(0.2474 0 0 0.1985 415.88 670.50)" font-family="Liberation Serif" font-size="100" font-style="italic" fill="#000">T</text>
<text transform="matrix(0.2874 0 0 0.3299 433.47 658.99)" font-family="Liberation Serif" font-size="100" fill="#000">[</text>
<text transform="matrix(0.3481 0 0 0.2950 443.85 656.60)" font-family="Liberation Serif" font-size="100" font-style="italic" fill="#000">t</text>
<rect x="457.9" y="646.7" width="17.7" height="2.2" fill="#000"/>
<text transform="matrix(0.3481 0 0 0.2950 479.50 656.60)" font-family="Liberation Serif" font-size="100" font-style="italic" fill="#000">n</text>
<text transform="matrix(0.2928 0 0 0.2950 496.78 656.60)" font-family="Liberation Serif" font-size="100" font-style="italic" fill="#000">T</text>
<text transform="matrix(0.2964 0 0 0.3299 515.03 658.99)" font-family="Liberation Serif" font-size="100" fill="#000">]</text>
<path d="M526.45,623.40 C541.90,638.04 541.90,657.56 526.45,672.20 L525.90,671.76 C537.44,657.27 537.44,638.33 525.90,623.84 Z" fill="#000"/>
<text transform="matrix(0.2854 0 0 0.2347 395.45 691.67)" font-family="Liberation Serif" font-size="100" font-style="italic" fill="#000">π</text>
<rect x="395.0" y="701.4" width="16.9" height="2.9" fill="#000"/>
<text transform="matrix(0.2474 0 0 0.2077 395.18 723.70)" font-family="Liberation Serif" font-size="100" font-style="italic" fill="#000">T</text>
<text transform="matrix(0.2919 0 0 0.3347 412.33 710.92)" font-family="Liberation Serif" font-size="100" fill="#000">[</text>
<text transform="matrix(0.3481 0 0 0.2950 423.00 708.80)" font-family="Liberation Serif" font-size="100" font-style="italic" fill="#000">t</text>
<rect x="437.5" y="699.1" width="17.1" height="2.2" fill="#000"/>
<text transform="matrix(0.3481 0 0 0.2950 458.65 708.80)" font-family="Liberation Serif" font-size="100" font-style="italic" fill="#000">n</text>
<text transform="matrix(0.2746 0 0 0.2950 476.40 708.80)" font-family="Liberation Serif" font-size="100" font-style="italic" fill="#000">T</text>
<text transform="matrix(0.2919 0 0 0.3347 494.25 710.92)" font-family="Liberation Serif" font-size="100" fill="#000">]</text>
</g>
<g id="fig" fill="none">
<line x1="550" y1="739.9" x2="1017.5" y2="739.9" stroke="#555555" stroke-width="1.35"/>
<line x1="589.5" y1="582.2" x2="589.5" y2="761.5" stroke="#555555" stroke-width="1.35"/>
<line x1="712.6" y1="582.2" x2="712.6" y2="761.5" stroke="#555555" stroke-width="1.35"/>
<line x1="835.6" y1="582.2" x2="835.6" y2="761.5" stroke="#555555" stroke-width="1.35"/>
<line x1="958.8" y1="582.2" x2="958.8" y2="761.5" stroke="#555555" stroke-width="1.35"/>
<path d="M565.5,585.2 C567.6,584.8 574.0,583.3 578.0,582.8 C582.0,582.2 585.8,581.7 589.7,581.9 C593.6,582.1 596.8,582.3 601.3,583.9 C605.8,585.5 611.6,588.2 616.7,591.4 C621.9,594.5 627.1,598.3 632.2,602.8 C637.4,607.3 642.7,613.0 647.6,618.5 C652.5,624.0 657.4,630.2 661.5,635.9 C665.6,641.5 668.7,646.6 672.3,652.4 C675.9,658.2 679.6,664.4 683.1,670.6 C686.6,676.8 690.1,683.8 693.0,689.5 C695.9,695.2 698.1,700.1 700.3,705.0 C702.5,709.9 704.4,714.7 706.1,719.1 C707.8,723.5 709.2,728.1 710.3,731.6 C711.4,735.1 712.2,738.5 712.6,739.9" stroke="#231f20" stroke-width="2.10" stroke-linecap="round"/>
<path d="M576.6,757.8 C577.3,757.4 579.5,756.5 580.8,755.3 C582.0,754.1 583.1,752.3 584.1,750.7 C585.1,749.1 585.7,747.5 586.6,745.7 C587.5,743.9 588.2,742.8 589.5,739.9 C590.8,737.0 592.4,732.1 594.1,728.3 C595.8,724.5 597.7,721.0 599.9,717.0 C602.1,713.0 604.6,708.9 607.4,704.3 C610.2,699.7 612.6,695.6 616.7,689.3 C620.8,683.0 627.1,673.3 632.2,666.6 C637.4,659.9 642.7,654.3 647.6,649.2 C652.5,644.1 656.4,640.0 661.5,635.9 C666.6,631.8 672.9,627.9 678.5,624.6 C684.1,621.3 690.8,617.9 695.0,615.9 C699.2,613.9 701.0,613.5 704.0,612.7 C707.0,611.9 711.4,611.3 712.9,611.0" stroke="#231f20" stroke-width="2.10" stroke-linecap="round"/>
<path d="M712.9,611.0 C715.3,611.6 723.0,612.8 727.4,614.4 C731.8,616.0 734.5,617.3 739.4,620.5 C744.3,623.7 751.1,628.9 756.7,633.4 C762.3,637.9 767.8,642.5 773.0,647.6 C778.2,652.7 783.0,658.0 787.7,663.7 C792.4,669.4 797.9,676.7 801.4,681.6 C804.9,686.5 806.6,689.1 809.0,693.0 C811.4,696.9 813.1,700.4 815.8,705.0 C818.4,709.6 822.3,716.1 824.9,720.8 C827.5,725.5 829.8,730.1 831.6,733.3 C833.4,736.5 834.9,738.8 835.6,739.9" stroke="#231f20" stroke-width="2.10" stroke-linecap="round"/>
<path d="M712.6,739.9 C713.6,738.0 716.5,732.2 718.6,728.3 C720.7,724.4 723.0,720.5 725.2,716.6 C727.4,712.7 729.0,709.9 731.9,705.0 C734.8,700.1 738.8,693.3 742.9,687.0 C747.0,680.7 751.7,673.6 756.7,667.0 C761.7,660.4 767.3,653.3 773.0,647.6 C778.7,641.9 785.2,637.2 791.1,632.9 C797.0,628.5 803.1,624.6 808.3,621.5 C813.5,618.4 817.5,616.2 822.1,614.4 C826.7,612.6 833.4,611.4 835.7,610.8" stroke="#231f20" stroke-width="2.10" stroke-linecap="round"/>
<path d="M835.7,610.8 C838.2,611.4 845.9,612.6 850.7,614.4 C855.5,616.1 859.2,618.1 864.4,621.3 C869.6,624.5 875.6,628.4 881.7,633.8 C887.8,639.1 895.2,647.0 900.9,653.4 C906.6,659.8 911.3,665.8 916.1,672.3 C920.9,678.8 926.2,686.6 929.9,692.1 C933.6,697.6 935.2,700.2 938.3,705.0 C941.4,709.8 945.7,716.5 948.3,720.8 C950.9,725.1 952.4,727.6 954.1,730.8 C955.9,734.0 957.5,737.1 958.8,739.9 C960.0,742.7 960.6,745.0 961.6,747.4 C962.6,749.8 963.9,752.2 964.9,754.0 C965.9,755.8 967.3,757.5 967.8,758.2" stroke="#231f20" stroke-width="2.10" stroke-linecap="round"/>
<path d="M835.6,739.9 C836.6,738.0 839.5,732.2 841.6,728.3 C843.7,724.4 845.9,720.5 848.2,716.6 C850.6,712.7 852.4,709.8 855.7,705.0 C859.0,700.2 863.6,693.5 867.9,688.0 C872.2,682.5 876.2,678.1 881.7,672.3 C887.2,666.5 895.2,658.3 900.9,653.4 C906.6,648.5 910.7,646.3 916.1,643.1 C921.5,639.9 928.1,636.6 933.3,634.4 C938.5,632.1 942.8,630.7 947.1,629.6 C951.4,628.5 955.2,627.6 959.3,627.6 C963.4,627.6 967.2,628.1 971.5,629.4 C975.8,630.7 980.8,632.8 985.1,635.3 C989.5,637.8 995.5,643.0 997.6,644.6" stroke="#231f20" stroke-width="2.10" stroke-linecap="round"/>
<path d="M712.6,739.9 C714.3,741.1 718.9,744.2 722.7,747.4 C726.5,750.6 731.2,755.6 735.2,759.0 C739.2,762.4 742.2,765.0 747.0,767.8 C751.8,770.6 759.0,774.1 764.0,775.7 C769.0,777.3 772.8,777.6 777.2,777.6 C781.6,777.6 786.5,776.7 790.3,775.8 C794.1,774.9 796.3,774.1 800.0,772.3 C803.7,770.5 808.4,767.8 812.5,764.8 C816.6,761.8 821.7,757.2 824.9,754.0 C828.1,750.8 829.8,748.1 831.6,745.7 C833.4,743.4 834.9,740.9 835.6,739.9" stroke="#231f20" stroke-width="2.10" stroke-linecap="round"/>
<path d="M712.6,739.9 C714.3,740.6 718.9,742.2 722.7,744.1 C726.5,746.0 731.2,748.9 735.2,751.1 C739.2,753.3 742.2,755.2 747.0,757.4 C751.8,759.5 759.1,762.6 764.0,764.0 C768.9,765.4 772.3,765.5 776.4,765.6 C780.5,765.7 784.8,765.4 788.7,764.6 C792.6,763.8 796.0,762.5 800.0,760.9 C804.0,759.3 808.4,757.2 812.5,754.9 C816.6,752.6 821.0,749.5 824.9,747.0 C828.8,744.5 833.8,741.1 835.6,739.9" stroke="#231f20" stroke-width="2.10" stroke-linecap="round"/>
<path d="M835.6,739.9 C837.3,738.9 841.9,736.1 845.7,733.7 C849.5,731.4 854.2,728.0 858.2,725.8 C862.2,723.6 866.1,721.9 870.0,720.6 C873.9,719.3 877.8,718.6 881.7,718.0 C885.7,717.4 889.4,717.0 893.7,717.1 C898.0,717.2 902.3,717.6 907.5,718.7 C912.7,719.8 919.3,721.6 925.0,723.7 C930.7,725.9 936.0,728.9 941.6,731.6 C947.2,734.3 954.6,737.4 958.8,739.9 C963.0,742.4 963.9,744.6 966.6,746.6 C969.3,748.6 972.0,750.2 974.9,751.6 C977.8,753.0 982.5,754.4 984.0,754.9" stroke="#231f20" stroke-width="2.10" stroke-linecap="round"/>
<path d="M835.6,739.9 C836.6,741.3 839.2,745.3 841.6,748.2 C844.0,751.1 847.1,754.8 849.9,757.4 C852.7,760.0 854.9,761.6 858.2,764.0 C861.6,766.4 866.4,769.5 870.0,771.5 C873.6,773.5 876.6,775.1 880.0,776.2 C883.4,777.3 886.7,778.2 890.4,778.2 C894.1,778.2 898.2,777.5 902.0,776.5 C905.8,775.5 909.2,773.9 913.0,772.0 C916.8,770.1 920.2,768.6 925.0,765.3 C929.8,762.0 937.5,755.6 941.6,752.4 C945.8,749.2 947.0,748.2 949.9,746.1 C952.8,744.0 956.0,741.9 958.8,739.9 C961.6,737.9 963.9,736.3 966.6,734.1 C969.3,731.9 972.1,729.0 974.9,726.6 C977.7,724.2 981.1,721.5 983.2,720.0 C985.3,718.5 986.6,718.2 987.3,717.9" stroke="#231f20" stroke-width="2.10" stroke-linecap="round"/>
<path d="M563.3,720.2 C564.7,721.0 568.8,723.0 571.6,725.0 C574.4,727.0 576.9,729.9 579.9,732.4 C582.9,734.9 586.7,737.5 589.5,739.9 C592.3,742.3 594.0,744.2 596.6,746.6 C599.2,749.0 602.1,751.6 604.9,754.0 C607.7,756.4 609.9,758.3 613.2,760.7 C616.6,763.1 620.9,765.9 625.0,768.2 C629.1,770.5 633.3,772.9 638.0,774.4 C642.7,775.9 648.5,777.1 653.2,777.3 C657.9,777.5 662.0,776.6 666.0,775.6 C670.0,774.6 673.1,773.4 677.0,771.5 C680.9,769.6 685.6,767.0 689.5,764.4 C693.4,761.8 697.2,758.7 700.3,755.7 C703.3,752.7 705.8,749.2 707.8,746.6 C709.8,744.0 711.8,741.0 712.6,739.9" stroke="#231f20" stroke-width="2.10" stroke-linecap="round"/>
<path d="M567.9,750.6 C569.9,749.5 576.3,745.9 579.9,744.1 C583.5,742.3 585.3,741.7 589.5,739.9 C593.7,738.1 599.0,735.7 604.9,733.3 C610.8,730.9 619.1,727.2 625.0,725.4 C630.9,723.6 634.9,723.2 640.0,722.6 C645.1,722.0 651.2,721.7 655.7,721.6 C660.2,721.5 663.5,721.8 667.0,722.0 C670.5,722.2 673.2,722.1 677.0,722.9 C680.8,723.7 685.4,725.3 689.5,727.0 C693.6,728.7 698.0,731.1 701.9,733.3 C705.8,735.4 710.8,738.8 712.6,739.9" stroke="#231f20" stroke-width="2.10" stroke-linecap="round"/>
<path d="M551.3,569.4 C554.5,570.3 563.9,572.6 570.4,574.7 C576.9,576.8 584.3,579.6 590.2,581.9 C596.1,584.2 599.9,586.3 605.9,588.6 C611.9,590.9 619.0,593.5 626.0,595.8 C633.0,598.1 641.4,600.7 647.6,602.6 C653.8,604.5 657.9,605.8 663.0,607.0 C668.1,608.2 673.4,609.1 678.5,609.9 C683.6,610.6 688.2,611.2 693.9,611.5 C699.6,611.8 705.2,611.8 712.9,611.9 C720.6,612.0 729.6,612.3 740.0,612.4 C750.4,612.5 763.3,612.5 775.0,612.4 C786.7,612.3 799.9,611.9 810.0,611.6 C820.1,611.4 826.6,610.8 835.7,610.9 C844.8,611.0 856.6,611.9 864.4,612.3 C872.1,612.7 876.3,612.8 882.2,613.5 C888.1,614.2 894.4,615.4 900.0,616.4 C905.6,617.4 909.1,618.4 916.1,619.8 C923.1,621.2 934.7,623.6 941.9,624.9 C949.1,626.2 952.1,625.9 959.3,627.8 C966.5,629.7 977.8,633.9 985.1,636.3 C992.4,638.7 997.0,640.1 1003.0,642.2 C1009.0,644.3 1018.3,647.6 1021.4,648.7" stroke="#231f20" stroke-width="2.3" stroke-dasharray="5.4 4.3"/>
<line x1="882.4" y1="624.2" x2="882.4" y2="800.6" stroke="#10b050" stroke-width="2.8" stroke-dasharray="9.4 8"/>
<circle cx="589.9" cy="582.0" r="6.1" fill="#cf0008"/>
<circle cx="589.9" cy="582.0" r="2.6" fill="#ff0a0a"/>
<circle cx="712.9" cy="610.8" r="6.1" fill="#0a7a33"/>
<circle cx="712.9" cy="610.8" r="2.6" fill="#1f9e4a"/>
<circle cx="835.7" cy="610.8" r="6.1" fill="#0b55a6"/>
<circle cx="835.7" cy="610.8" r="2.6" fill="#1a6fd0"/>
<circle cx="882.2" cy="613.2" r="5.9" fill="#555555"/>
<circle cx="882.2" cy="613.2" r="2.9" fill="#000000"/>
<circle cx="959.4" cy="627.7" r="6.1" fill="#c96400"/>
<circle cx="959.4" cy="627.7" r="2.6" fill="#ff8a10"/>
<line x1="695.6" y1="582.1" x2="682.9" y2="600.4" stroke="#231f20" stroke-width="0.9"/>
<path d="M677.8,607.8 L681.5,598.2 L685.5,600.9 Z" fill="#231f20"/>
<line x1="856.0" y1="581.0" x2="844.2" y2="598.8" stroke="#231f20" stroke-width="0.9"/>
<path d="M839.9,605.3 L843.0,596.8 L846.5,599.1 Z" fill="#231f20"/>
</g>
<g id="figlabels">
<path d="M878.8,628.0 L885.8,638.4 M885.8,628.0 L878.8,638.4" stroke="#0b4fa0" stroke-width="2.9" fill="none"/>
<path d="M878.5,667.2 L885.5,677.6 M885.5,667.2 L878.5,677.6" stroke="#c05a00" stroke-width="2.9" fill="none"/>
<path d="M878.5,715.1 L885.5,725.5 M885.5,715.1 L878.5,725.5" stroke="#c00010" stroke-width="2.9" fill="none"/>
<path d="M878.6,772.0 L885.6,782.4 M885.6,772.0 L878.6,782.4" stroke="#0a7a33" stroke-width="2.9" fill="none"/>
</g>
<g id="figtext">
<text transform="matrix(0.2006 0 0 0.1920 679.34 571.10)" font-family="Liberation Serif" font-size="100" font-style="italic" fill="#231f20">x</text>
<text transform="matrix(0.1487 0 0 0.1260 687.74 575.30)" font-family="Liberation Serif" font-size="100" font-style="italic" fill="#231f20">a</text>
<path d="M699.85,558.60 C694.27,563.19 694.27,569.31 699.85,573.90 L700.40,573.46 C696.58,569.22 696.58,563.28 700.40,559.04 Z" fill="#231f20"/>
<text transform="matrix(0.1969 0 0 0.1920 700.43 571.10)" font-family="Liberation Serif" font-size="100" font-style="italic" fill="#231f20">t</text>
<path d="M707.25,558.60 C714.43,563.19 714.43,569.31 707.25,573.90 L706.70,573.46 C712.12,569.22 712.12,563.28 706.70,559.04 Z" fill="#231f20"/>
<text transform="matrix(0.1868 0 0 0.1920 799.63 571.20)" font-family="Liberation Serif" font-size="100" fill="#231f20">sample</text>
<text transform="matrix(0.2076 0 0 0.1920 857.01 571.20)" font-family="Liberation Serif" font-size="100" fill="#231f20">of</text>
<text transform="matrix(0.2050 0 0 0.1920 877.55 571.20)" font-family="Liberation Serif" font-size="100" font-style="italic" fill="#231f20">x</text>
<text transform="matrix(0.1487 0 0 0.1260 885.99 575.40)" font-family="Liberation Serif" font-size="100" font-style="italic" fill="#231f20">a</text>
<path d="M898.55,558.70 C892.83,563.29 892.83,569.41 898.55,574.00 L899.10,573.56 C895.15,569.32 895.15,563.38 899.10,559.14 Z" fill="#231f20"/>
<text transform="matrix(0.2009 0 0 0.1920 899.02 571.20)" font-family="Liberation Serif" font-size="100" font-style="italic" fill="#231f20">t</text>
<path d="M906.15,558.70 C912.67,563.29 912.67,569.41 906.15,574.00 L905.60,573.56 C910.35,569.32 910.35,563.38 905.60,559.14 Z" fill="#231f20"/>
<path d="M563.15,773.20 C557.57,777.82 557.57,783.98 563.15,788.60 L563.70,788.16 C559.89,783.89 559.89,777.91 563.70,773.64 Z" fill="#231f20"/>
<text transform="matrix(0.2247 0 0 0.1920 564.10 785.70)" font-family="Liberation Serif" font-size="100" font-style="italic" fill="#231f20">n</text>
<rect x="578.6" y="780.8" width="10.5" height="1.0" fill="#231f20"/>
<text transform="matrix(0.2145 0 0 0.1920 592.86 785.70)" font-family="Liberation Serif" font-size="100" fill="#231f20">2</text>
<path d="M603.95,773.20 C609.67,777.82 609.67,783.98 603.95,788.60 L603.40,788.16 C607.35,783.89 607.35,777.91 603.40,773.64 Z" fill="#231f20"/>
<text transform="matrix(0.2092 0 0 0.1920 608.63 785.70)" font-family="Liberation Serif" font-size="100" font-style="italic" fill="#231f20">T</text>
<path d="M687.95,773.20 C682.50,777.82 682.50,783.98 687.95,788.60 L688.50,788.16 C684.82,783.89 684.82,777.91 688.50,773.64 Z" fill="#231f20"/>
<text transform="matrix(0.2247 0 0 0.1920 689.30 785.70)" font-family="Liberation Serif" font-size="100" font-style="italic" fill="#231f20">n</text>
<rect x="704.0" y="780.8" width="10.3" height="1.0" fill="#231f20"/>
<text transform="matrix(0.1250 0 0 0.1920 719.40 785.70)" font-family="Liberation Serif" font-size="100" fill="#231f20">1</text>
<path d="M728.75,773.20 C734.47,777.82 734.47,783.98 728.75,788.60 L728.20,788.16 C732.15,783.89 732.15,777.91 728.20,773.64 Z" fill="#231f20"/>
<text transform="matrix(0.2073 0 0 0.1920 733.14 785.70)" font-family="Liberation Serif" font-size="100" font-style="italic" fill="#231f20">T</text>
<text transform="matrix(0.2128 0 0 0.1920 826.34 785.70)" font-family="Liberation Serif" font-size="100" font-style="italic" fill="#231f20">n</text>
<text transform="matrix(0.2092 0 0 0.1920 835.73 785.70)" font-family="Liberation Serif" font-size="100" font-style="italic" fill="#231f20">T</text>
<path d="M932.55,773.20 C926.17,777.82 926.17,783.98 932.55,788.60 L933.10,788.16 C928.49,783.89 928.49,777.91 933.10,773.64 Z" fill="#231f20"/>
<text transform="matrix(0.2128 0 0 0.1920 933.84 785.70)" font-family="Liberation Serif" font-size="100" font-style="italic" fill="#231f20">n</text>
<path d="M948.8,781.3 h10.4 M954.0,776.1 v10.4" stroke="#231f20" stroke-width="1.0" fill="none"/>
<text transform="matrix(0.1307 0 0 0.1920 964.95 785.70)" font-family="Liberation Serif" font-size="100" fill="#231f20">1</text>
<path d="M974.35,773.20 C980.20,777.82 980.20,783.98 974.35,788.60 L973.80,788.16 C977.88,783.89 977.88,777.91 973.80,773.64 Z" fill="#231f20"/>
<text transform="matrix(0.2266 0 0 0.1920 978.64 785.70)" font-family="Liberation Serif" font-size="100" font-style="italic" fill="#231f20">T</text>
<text transform="matrix(0.1497 0 0 0.1920 1025.34 745.00)" font-family="Liberation Serif" font-size="100" font-style="italic" fill="#231f20">t</text>
<text transform="matrix(0.1334 0 0 0.1189 996.94 803.90)" font-family="Liberation Sans" font-size="100" font-weight="bold" fill="#808080">21</text>
</g>
</g>
</svg></body></html>
